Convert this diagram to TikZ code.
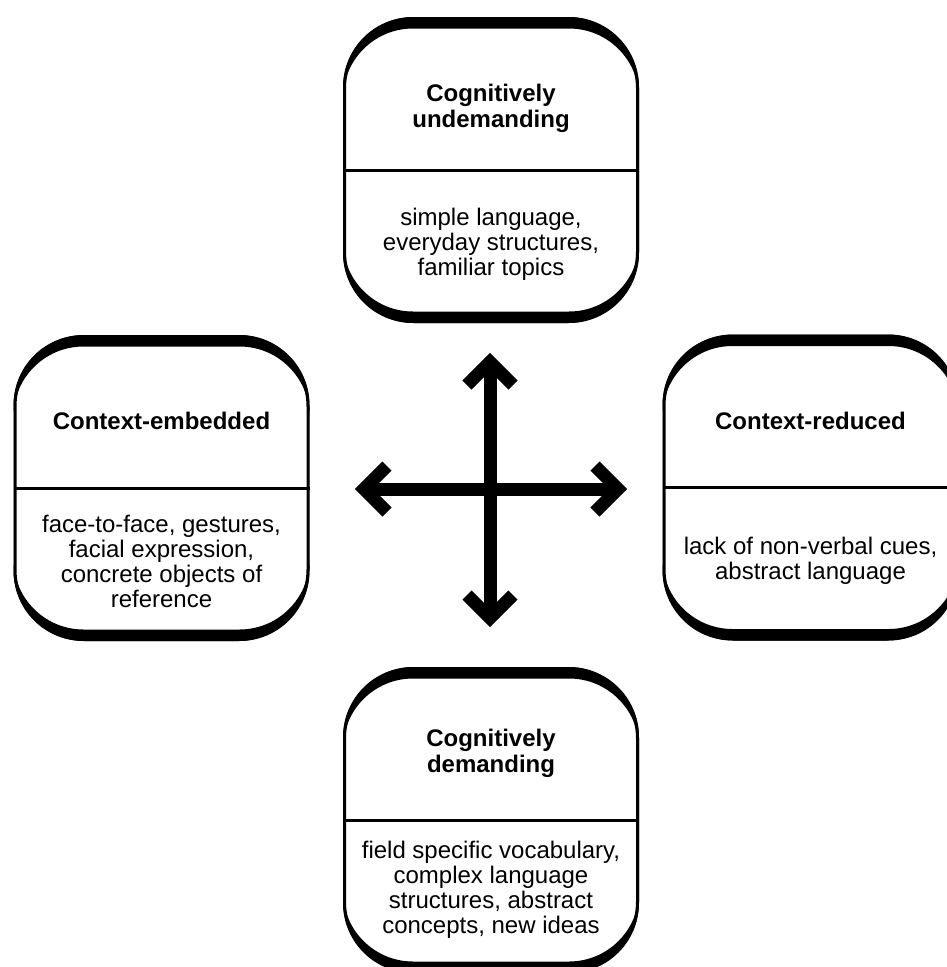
\documentclass[tikz,border=0pt]{standalone}
\usepackage{fontspec}
\setmainfont{Liberation Sans}
\usetikzlibrary{calc}
\begin{document}
\begin{tikzpicture}[x=1pt,y=-1pt,
  box/.style={draw=black, line width=3pt, rounded corners=70pt, minimum width=293pt, minimum height=303pt, inner sep=0pt, fill=white},
  titletext/.style={font=\fontsize{24}{26}\selectfont\bfseries, align=center, inner sep=0pt},
  bodytext/.style={font=\fontsize{24}{25}\selectfont, align=center, inner sep=0pt},
  divider/.style={line width=3pt},
  crescent/.style={fill=black, even odd rule, rounded corners=70pt},
  shaft/.style={line width=13pt},
  chev/.style={line width=13pt, miter limit=10, line join=miter}]
\useasboundingbox (0,0) rectangle (947,967);
\clip (0,0) rectangle (947,967);
% boxes
\node[box] (T) at (491,170) {};
\node[box] (L) at (161.5,488) {};
\node[box] (R) at (810.5,487.5) {};
\node[box] (B) at (491,820) {};
\foreach \n in {T,L,R,B}{
  \fill[crescent] (\n.north west) rectangle (\n.south east)
    ($(\n.north west)+(0,11.5)$) rectangle ($(\n.south east)+(0,-11.5)$);
  \draw[divider] (\n.west) -- (\n.east);
}
% texts
\node[titletext] (Tt) at (491,108) {Cognitively\\undemanding};
\node[bodytext] (Tb) at (491,244) {simple language,\\everyday structures,\\familiar topics};
\node[titletext] (Lt) at (161.5,421) {Context-embedded};
\node[bodytext] (Lb) at (161.5,561) {face-to-face, gestures,\\facial expression,\\concrete objects of\\reference};
\node[titletext] (Rt) at (810.5,421) {Context-reduced};
\node[bodytext] (Rb) at (810.5,561) {lack of non-verbal cues,\\abstract language};
\node[titletext] (Bt) at (491,753) {Cognitively\\demanding};
\node[bodytext] (Bb) at (491,890) {field specific vocabulary,\\complex language\\structures, abstract\\concepts, new ideas};
% cross arrows
\coordinate (aN) at (490,362);
\coordinate (aS) at (490,618);
\coordinate (aW) at (364,489);
\coordinate (aE) at (618,489);
\draw[shaft] (aN) -- (aS);
\draw[shaft] (aW) -- (aE);
\draw[chev] ($(aN)+(-23,23)$) -- (aN) -- ($(aN)+(23,23)$);
\draw[chev] ($(aS)+(-23,-23)$) -- (aS) -- ($(aS)+(23,-23)$);
\draw[chev] ($(aW)+(23,-23)$) -- (aW) -- ($(aW)+(23,23)$);
\draw[chev] ($(aE)+(-23,-23)$) -- (aE) -- ($(aE)+(-23,23)$);
\end{tikzpicture}
\end{document}
